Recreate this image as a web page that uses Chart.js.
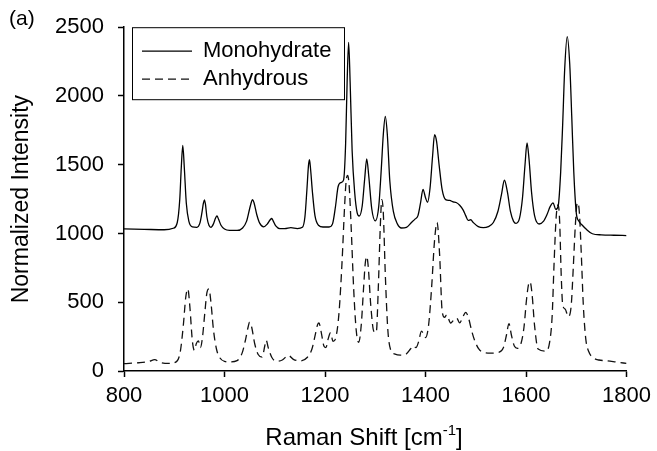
<!DOCTYPE html>
<html>
<head>
<meta charset="utf-8">
<script src="https://cdn.jsdelivr.net/npm/chart.js@4"></script>
<style>
html,body{margin:0;padding:0;background:#fff;}
#wrap{width:657px;height:451px;position:relative;}
</style>
</head>
<body>
<div id="wrap"><canvas id="c" width="657" height="451"></canvas></div>
<script>
const seriesNames = ['Monohydrate', 'Anhydrous'];
const xTicks = [800, 1000, 1200, 1400, 1600, 1800];
const yTicks = [0, 500, 1000, 1500, 2000, 2500];

const monoX = [800,840,880,898,906,911,914,917,920,924,929,936,945,951,955,958,960,962,965,969,973,978,982,985,988,993,1000,1010,1025,1036,1044,1050,1054,1056,1059,1064,1070,1078,1085,1091,1094,1097,1102,1110,1120,1132,1145,1155,1160,1164,1167,1169,1171,1175,1180,1187,1196,1208,1215,1221,1226,1232,1237,1241,1244,1247,1250,1254,1259,1264,1268,1274,1279,1283,1287,1293,1300,1307,1312,1316,1320,1324,1329,1336,1344,1352,1362,1372,1379,1385,1390,1395,1400,1404,1409,1414,1418,1422,1427,1433,1440,1448,1455,1461,1468,1475,1480,1485,1490,1495,1505,1515,1525,1535,1544,1551,1557,1563,1569,1575,1580,1587,1593,1598,1602,1606,1611,1617,1626,1635,1642,1648,1654,1659,1664,1669,1673,1677,1682,1687,1691,1695,1700,1705,1712,1720,1732,1750,1775,1800];
const monoY = [1033,1030,1027,1038,1080,1250,1480,1640,1480,1220,1090,1048,1045,1075,1150,1220,1245,1215,1120,1060,1045,1070,1110,1128,1105,1060,1032,1022,1022,1040,1090,1180,1235,1246,1220,1140,1075,1048,1068,1100,1109,1090,1055,1035,1035,1042,1036,1045,1120,1320,1490,1536,1480,1300,1130,1060,1047,1047,1070,1200,1340,1370,1390,1650,2100,2390,2100,1600,1300,1150,1127,1200,1400,1543,1420,1180,1092,1200,1470,1720,1852,1720,1380,1160,1070,1040,1045,1080,1104,1130,1220,1321,1260,1227,1330,1560,1718,1670,1500,1320,1246,1240,1230,1225,1205,1170,1130,1095,1100,1080,1050,1043,1050,1080,1160,1280,1387,1300,1160,1090,1074,1110,1260,1500,1658,1540,1300,1130,1069,1090,1140,1195,1222,1175,1200,1450,1800,2200,2432,2230,1850,1450,1150,1090,1060,1030,998,990,987,985];

const anhX = [800,830,850,861,872,890,905,912,918,923,927,931,936,940,944,948,952,956,961,965,969,973,978,984,990,1000,1012,1025,1035,1042,1047,1050,1054,1060,1067,1075,1080,1083,1087,1094,1103,1115,1127,1137,1150,1165,1174,1181,1185,1188,1192,1198,1202,1206,1211,1216,1222,1228,1234,1239,1242,1245,1248,1252,1257,1262,1267,1272,1277,1280,1283,1286,1291,1297,1302,1306,1310,1313,1316,1320,1325,1331,1338,1350,1362,1370,1376,1381,1386,1392,1397,1400,1406,1412,1418,1423,1428,1433,1438,1442,1450,1456,1462,1468,1474,1480,1486,1492,1498,1506,1514,1530,1545,1555,1561,1566,1571,1577,1583,1590,1596,1601,1605,1608,1612,1617,1624,1640,1647,1652,1656,1660,1664,1667,1670,1673,1678,1684,1690,1694,1698,1702,1706,1710,1714,1719,1725,1732,1745,1760,1780,1800];
const anhY = [54,60,70,83,62,55,70,140,330,540,597,470,220,150,200,219,170,240,430,570,597,500,300,160,100,70,66,75,130,230,320,355,320,200,120,101,180,224,170,100,71,80,113,85,73,100,160,270,335,349,290,180,170,230,278,215,250,430,800,1200,1380,1422,1350,1050,600,300,208,330,620,780,833,760,480,290,280,600,1050,1246,1150,700,300,150,125,115,125,160,184,170,210,290,260,243,330,600,950,1081,850,440,390,408,349,370,385,350,390,427,380,290,220,160,137,130,135,170,260,345,260,180,165,200,320,520,630,649,560,330,160,145,210,400,800,1120,1210,1080,700,481,450,396,480,750,1050,1224,1160,850,480,230,140,101,80,75,65,55];

function pts(xs, ys){ return xs.map((x,i)=>({x:x, y:ys[i]})); }

const FONT = 'Liberation Sans, Arial, sans-serif';

const bgPlugin = {
  id:'bg',
  beforeDraw(chart){
    const c = chart.ctx; c.save(); c.fillStyle='#fff'; c.fillRect(0,0,chart.width,chart.height); c.restore();
  }
};

const textPlugin = {
  id:'customText',
  afterDatasetsDraw(chart){
    const c = chart.ctx;
    const a = chart.chartArea;
    const bx = a.left + 8, by = a.top, bw = 212, bh = 72;
    c.save();
    c.fillStyle = '#fff';
    c.fillRect(bx, by, bw, bh);
    c.strokeStyle = '#000';
    c.lineWidth = 1;
    c.strokeRect(bx + 0.5, by + 0.5, bw, bh);
    const rows = [by + 24, by + 52];
    chart.data.datasets.forEach((ds, i) => {
      c.beginPath();
      c.setLineDash(ds.borderDash || []);
      c.strokeStyle = ds.borderColor;
      c.lineWidth = ds.borderWidth;
      c.moveTo(bx + 10, rows[i]);
      c.lineTo(bx + 60, rows[i]);
      c.stroke();
      c.setLineDash([]);
      c.fillStyle = '#000';
      c.font = '22px ' + FONT;
      c.textBaseline = 'middle';
      c.textAlign = 'left';
      c.fillText(ds.label, bx + 71, rows[i]);
    });
    // panel label
    c.font = '21px ' + FONT;
    c.textBaseline = 'middle';
    c.fillText('(a)', 9, 19);
    // x axis title with superscript
    const main = 'Raman Shift [cm', sup = '-1', tail = ']';
    c.font = '24px ' + FONT;
    const w1 = c.measureText(main).width, w3 = c.measureText(tail).width;
    c.font = '15px ' + FONT;
    const w2 = c.measureText(sup).width;
    const total = w1 + w2 + w3;
    let x = 364 - total / 2;
    const base = 445;
    c.textBaseline = 'alphabetic';
    c.font = '24px ' + FONT;
    c.fillText(main, x, base); x += w1;
    c.font = '15px ' + FONT;
    c.fillText(sup, x, base - 10); x += w2;
    c.font = '24px ' + FONT;
    c.fillText(tail, x, base);
    c.restore();
  }
};

new Chart(document.getElementById('c'), {
  type: 'line',
  data: {
    datasets: [
      { label: seriesNames[0], data: pts(monoX, monoY), borderColor: '#000', borderWidth: 1.3,
        pointRadius: 0, fill: false, cubicInterpolationMode: 'monotone' },
      { label: seriesNames[1], data: pts(anhX, anhY), borderColor: '#111', borderWidth: 1.3,
        borderDash: [8, 5], pointRadius: 0, fill: false, cubicInterpolationMode: 'monotone' }
    ]
  },
  options: {
    responsive: false,
    animation: false,
    devicePixelRatio: 1,
    layout: { padding: { top: 18, right: 28, left: 0, bottom: 0 } },
    plugins: { legend: { display: false }, tooltip: { enabled: false } },
    scales: {
      x: {
        type: 'linear', min: 800, max: 1800,
        afterBuildTicks(s){ s.ticks = xTicks.map(v => ({value: v})); },
        afterFit(s){ s.height = 80; },
        grid: { drawOnChartArea: false, drawTicks: true, tickLength: 6, tickWidth: 1.5, color: '#000' },
        border: { display: true, color: '#000', width: 1.5 },
        ticks: { color: '#000', font: { family: FONT, size: 22 }, padding: 6, maxRotation: 0,
                 callback: v => String(v) },
        title: { display: false }
      },
      y: {
        type: 'linear', min: 0, max: 2500,
        afterBuildTicks(s){ s.ticks = yTicks.map(v => ({value: v})); },
        afterFit(s){ s.width = 124; },
        grid: { drawOnChartArea: false, drawTicks: true, tickLength: 6, tickWidth: 1.5, color: '#000' },
        border: { display: true, color: '#000', width: 1.5 },
        ticks: { color: '#000', font: { family: FONT, size: 22 }, padding: 14, callback: v => String(v) },
        title: { display: true, text: 'Normalized Intensity', color: '#000',
                 font: { family: FONT, size: 23 }, padding: { top: 8, bottom: 0 } }
      }
    }
  },
  plugins: [bgPlugin, textPlugin]
});
</script>
</body>
</html>
